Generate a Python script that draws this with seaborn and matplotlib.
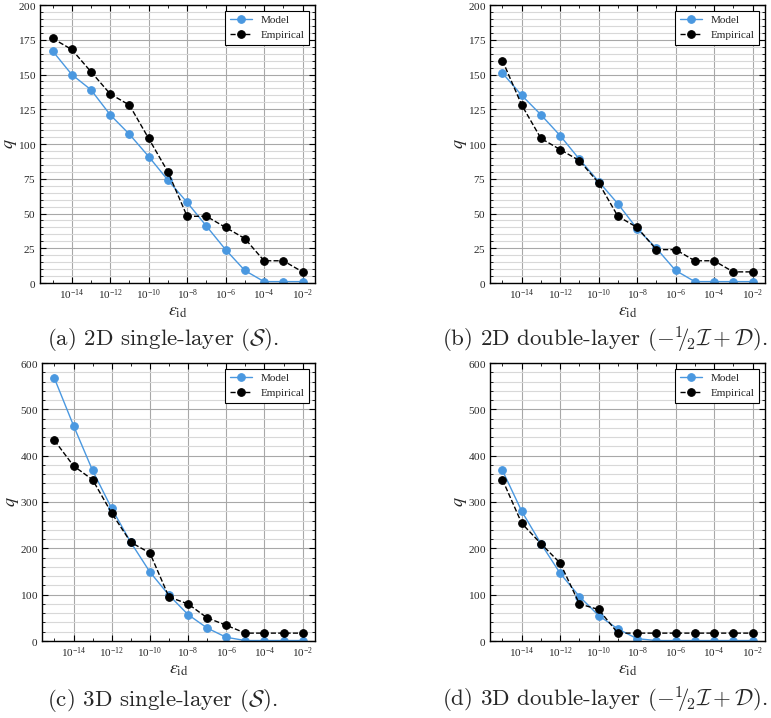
import numpy as np
import matplotlib
matplotlib.use("Agg")
import matplotlib.pyplot as plt
from matplotlib.ticker import LogLocator, MultipleLocator, NullFormatter
import seaborn as sns

# tolerances 1e-15 ... 1e-2
eps = [1e-15, 1e-14, 1e-13, 1e-12, 1e-11, 1e-10, 1e-9,
       1e-8, 1e-7, 1e-6, 1e-5, 1e-4, 1e-3, 1e-2]

model_2d_s = [167, 150, 139, 121, 107, 91, 74, 58, 41, 24, 9, 1, 1, 1]
emp_2d_s = [176, 168, 152, 136, 128, 104, 80, 48, 48, 40, 32, 16, 16, 8]

model_2d_d = [151, 135, 121, 106, 89, 73, 57, 39, 25, 9, 1, 1, 1, 1]
emp_2d_d = [160, 128, 104, 96, 88, 72, 48, 40, 24, 24, 16, 16, 8, 8]

model_3d_s = [567, 465, 368, 286, 213, 149, 99, 57, 28, 8, 1, 1, 1, 1]
emp_3d_s = [433, 378, 348, 276, 213, 190, 95, 80, 50, 34, 17, 17, 17, 17]

model_3d_d = [368, 280, 210, 146, 96, 55, 26, 5, 1, 1, 1, 1, 1, 1]
emp_3d_d = [348, 254, 210, 168, 80, 68, 17, 17, 17, 17, 17, 17, 17, 17]

captions = [
    r"(a) 2D single-layer ($\mathcal{S}$).",
    r"(b) 2D double-layer $(-{}^{1}\!\!/\!{}_{2}\mathcal{I}+\mathcal{D})$.",
    r"(c) 3D single-layer ($\mathcal{S}$).",
    r"(d) 3D double-layer $(-{}^{1}\!\!/\!{}_{2}\mathcal{I}+\mathcal{D})$.",
]

sns.set_style("ticks")
plt.rcParams['font.family'] = ['serif']
plt.rcParams['font.serif'] = ['Liberation Serif', 'DejaVu Serif']
plt.rcParams['mathtext.fontset'] = 'stix'
plt.rcParams['axes.formatter.use_mathtext'] = True

W, H = 771, 718
fig = plt.figure(figsize=(W / 100, H / 100), dpi=100)

# axes boxes in pixels: left, top, right, bottom
boxes = [(40, 5, 315, 283), (490, 5, 765, 283),
         (42, 363, 315, 641), (490, 363, 765, 641)]
panels = [(model_2d_s, emp_2d_s, 200, 25, 5),
          (model_2d_d, emp_2d_d, 200, 25, 5),
          (model_3d_s, emp_3d_s, 600, 100, 20),
          (model_3d_d, emp_3d_d, 600, 100, 20)]
cap_pos = [(47, 340), (442, 340), (47, 700), (442, 700)]

blue = "#4a98e0"

for box, (model, emp, ymax, major, minor), cap, cp in zip(boxes, panels, captions, cap_pos):
    l, t, r, b = box
    ax = fig.add_axes([l / W, 1 - b / H, (r - l) / W, (b - t) / H])
    sns.lineplot(x=eps, y=model, ax=ax, color=blue, marker='o', markersize=5.5,
                 markeredgecolor=blue, linewidth=1, label='Model')
    sns.lineplot(x=eps, y=emp, ax=ax, color='black', marker='o', markersize=5.5,
                 markeredgecolor='black', linewidth=1, linestyle='--', label='Empirical')
    ax.set_xscale('log')
    ax.set_ylim(0, ymax)
    ax.xaxis.set_major_locator(LogLocator(base=100.0, numticks=20))
    ax.xaxis.set_minor_locator(LogLocator(base=10.0, numticks=20))
    ax.xaxis.set_minor_formatter(NullFormatter())
    ax.yaxis.set_major_locator(MultipleLocator(major))
    ax.yaxis.set_minor_locator(MultipleLocator(minor))
    ax.grid(True, which='major', color='#a8a8a8', linewidth=0.8)
    ax.grid(True, which='minor', axis='y', color='#d8d8d8', linewidth=0.8)
    ax.set_axisbelow(True)
    ax.tick_params(which='both', direction='in', top=True, right=True,
                   labelsize=8, color='black', pad=3)
    ax.tick_params(which='major', length=4, width=0.8)
    ax.tick_params(which='minor', length=2, width=0.6)
    for sp in ax.spines.values():
        sp.set_color('black')
        sp.set_linewidth(1)
    ax.set_xlabel(r'$\epsilon_{\mathrm{id}}$', fontsize=13)
    ax.set_ylabel(r'$q$', fontsize=13)
    ax.xaxis.set_label_coords(0.5, -20 / (b - t), transform=ax.transAxes)
    ax.yaxis.set_label_coords(-21 / (r - l), 0.5, transform=ax.transAxes)
    leg = ax.legend(loc='upper right', fontsize=8, fancybox=False,
                    edgecolor='black', framealpha=1, borderpad=0.4,
                    handlelength=2.0)
    leg.get_frame().set_linewidth(0.8)
    fig.text(cp[0] / W, 1 - cp[1] / H, cap, fontsize=16.5, ha='left', va='center',
             family='cmr10', math_fontfamily='cm')

fig.savefig('out.png', dpi=100)
